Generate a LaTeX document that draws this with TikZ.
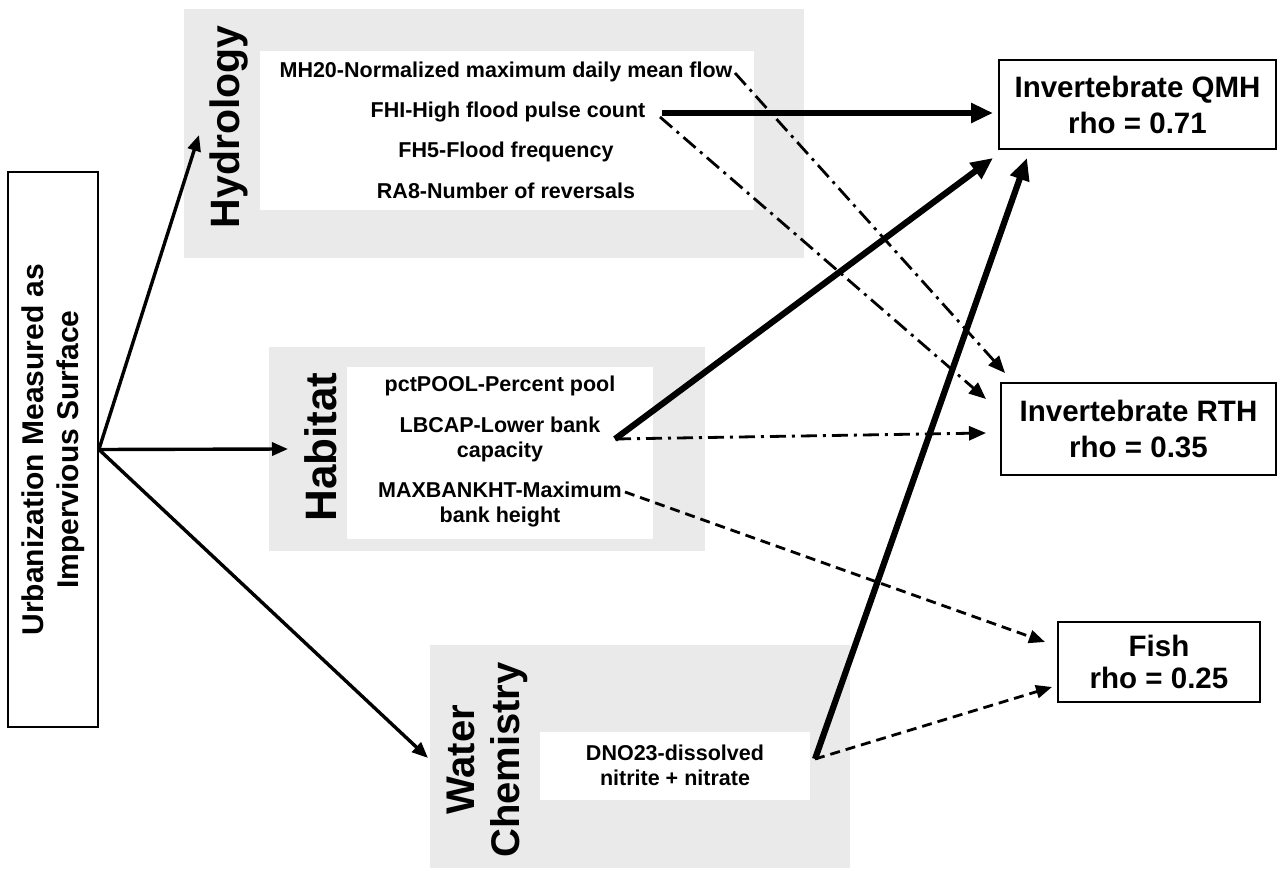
\documentclass[tikz,border=0pt]{standalone}
\usepackage{fontspec}
\setmainfont{Liberation Sans}
\usetikzlibrary{arrows.meta}
\definecolor{panelgray}{RGB}{234,234,234}
\begin{document}
\begin{tikzpicture}[x=1pt,y=-1pt,
  panel/.style={fill=panelgray,draw=none,inner sep=0pt,outer sep=0pt},
  innerbox/.style={fill=white,draw=none,inner sep=0pt,outer sep=0pt},
  grouplabel/.style={rotate=90,inner sep=0pt,align=center},
  item/.style={inner sep=0pt,align=center,font=\fontsize{21.5}{25}\selectfont\bfseries},
  target/.style={draw=black,line width=1.8pt,inner sep=0pt,align=center,font=\fontsize{29.5}{36}\selectfont\bfseries},
  urbarrow/.style={line width=3.4pt,-{Triangle[length=16pt,width=13pt]}},
  thickarrow/.style={line width=6.2pt,-{Triangle[length=22pt,width=19pt]}},
  dashdotarrow/.style={line width=2.8pt,dash pattern=on 16pt off 6pt on 3pt off 6pt,-{Triangle[length=17pt,width=14pt]}},
  dashedarrow/.style={line width=2.8pt,dash pattern=on 10pt off 6pt,-{Triangle[length=16pt,width=13pt]}}
]
\useasboundingbox[fill=white] (0,0) rectangle (1278,869);

% source box
\node[draw=black,line width=1.8pt,rotate=90,minimum width=555pt,minimum height=90pt,inner sep=0pt,align=center,font=\fontsize{30}{35}\selectfont\bfseries] (urb) at (53,449.5) {Urbanization Measured as\\Impervious Surface};

% Hydrology panel
\node[panel,minimum width=620pt,minimum height=249pt] (hydP) at (494,133.5) {};
\node[innerbox,minimum width=494pt,minimum height=159pt] (hydW) at (507,130.5) {};
\node[grouplabel,font=\fontsize{41}{46}\selectfont\bfseries] (hydL) at (229,127) {Hydrology};
\node[item] (mh20) at (506,72) {MH20-Normalized maximum daily mean flow};
\node[item] (fhi) at (508,112) {FHI-High flood pulse count};
\node[item] (fh5) at (506,152) {FH5-Flood frequency};
\node[item] (ra8) at (506,191) {RA8-Number of reversals};

% Habitat panel
\node[panel,minimum width=436pt,minimum height=204pt] (habP) at (487,449) {};
\node[innerbox,minimum width=306pt,minimum height=172pt] (habW) at (500,453) {};
\node[grouplabel,font=\fontsize{44}{50}\selectfont\bfseries] (habL) at (321,447) {Habitat};
\node[item] (pct) at (500,386) {pctPOOL-Percent pool};
\node[item] (lbcap) at (500,439) {LBCAP-Lower bank\\capacity};
\node[item] (maxb) at (500,504) {MAXBANKHT-Maximum\\bank height};

% Water chemistry panel
\node[panel,minimum width=420pt,minimum height=223pt] (watP) at (640,756.5) {};
\node[innerbox,minimum width=270pt,minimum height=68pt] (watW) at (675,766) {};
\node[grouplabel,font=\fontsize{40}{45}\selectfont\bfseries] (watL) at (487,760) {Water\\Chemistry};
\node[item] (dno) at (675,765) {DNO23-dissolved\\nitrite + nitrate};

% targets
\node[target,minimum width=277pt,minimum height=89pt] (qmh) at (1137.5,104.5) {Invertebrate QMH\\rho = 0.71};
\node[target,minimum width=275pt,minimum height=92pt] (rth) at (1138.5,429) {Invertebrate RTH\\rho = 0.35};
\node[target,minimum width=202pt,minimum height=80pt,font=\fontsize{29.5}{32}\selectfont\bfseries] (fish) at (1159,662) {Fish\\rho = 0.25};

% connector end points
\coordinate (hydIn) at (199,135);
\coordinate (habIn) at (288,449);
\coordinate (watIn) at (428,758);
\coordinate (mh20Out) at (735,73);
\coordinate (fhiOut) at (662,113);
\coordinate (fhiOutB) at (660,117);
\coordinate (lbOut) at (615,439);
\coordinate (maxOut) at (625,492);
\coordinate (dnoOut) at (815,759);
\coordinate (qmhA) at (993,113);
\coordinate (qmhB) at (993,158);
\coordinate (qmhC) at (1027,158);
\coordinate (rthA) at (1005,373);
\coordinate (rthB) at (986,399);
\coordinate (rthC) at (986,433);
\coordinate (fishA) at (1045,642);
\coordinate (fishB) at (1052,687);

% connectors
\draw[urbarrow] (urb.south) -- (hydIn);
\draw[urbarrow] (urb.south) -- (habIn);
\draw[urbarrow] (urb.south) -- (watIn);

\draw[dashdotarrow] (mh20Out) -- (rthA);
\draw[dashdotarrow] (fhiOutB) -- (rthB);
\draw[dashdotarrow] (lbOut) -- (rthC);
\draw[dashedarrow] (maxOut) -- (fishA);
\draw[dashedarrow] (dnoOut) -- (fishB);

\draw[thickarrow] (fhiOut) -- (qmhA);
\draw[thickarrow] (lbOut) -- (qmhB);
\draw[thickarrow] (dnoOut) -- (qmhC);
\end{tikzpicture}
\end{document}
